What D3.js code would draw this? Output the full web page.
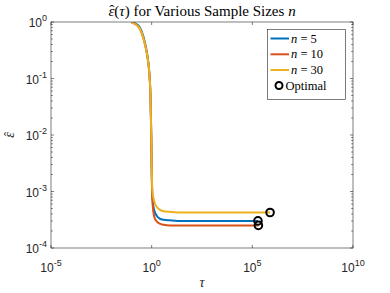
<!DOCTYPE html>
<html><head><meta charset="utf-8">
<script src="https://cdn.jsdelivr.net/npm/d3@7"></script>
<style>body{margin:0;background:#fff}svg{display:block}</style>
</head><body>
<script>
// Data
const tauGrid = [0.1, 0.158, 0.251, 0.398, 0.501, 0.631, 0.759, 0.871, 0.955, 1, 1.072, 1.202, 1.413, 1.778, 2.512, 3.981, 7.943, 19.95, 100, 1000, 1e4, 1e5];
const eps5  = [1.05, 0.933, 0.813, 0.537, 0.380, 0.240, 0.132, 0.0501, 0.0100, 0.00282, 8.91e-4, 5.62e-4, 4.37e-4, 3.72e-4, 3.31e-4, 3.16e-4, 3.09e-4, 3.02e-4, 3.02e-4, 3.02e-4, 3.02e-4, 3.02e-4];
const eps10 = [0.977, 0.912, 0.776, 0.501, 0.355, 0.229, 0.126, 0.0501, 0.0100, 0.00251, 7.94e-4, 4.47e-4, 3.39e-4, 2.95e-4, 2.69e-4, 2.57e-4, 2.51e-4, 2.51e-4, 2.51e-4, 2.51e-4, 2.51e-4, 2.51e-4];
const eps30 = [0.977, 0.912, 0.776, 0.501, 0.355, 0.229, 0.126, 0.0501, 0.0100, 0.00316, 0.00112, 7.94e-4, 6.31e-4, 5.37e-4, 4.79e-4, 4.47e-4, 4.37e-4, 4.27e-4, 4.25e-4, 4.25e-4, 4.25e-4, 4.25e-4];
const seriesNames = ["5", "10", "30"];
const seriesColors = ["#0072BD", "#D95319", "#EDB120"];
const optimalTau = [1.9e5, 2.0e5, 7.6e5];
const optimalEps = [3.02e-4, 2.51e-4, 4.25e-4];
const xTicks = [1e-5, 1, 1e5, 1e10];
const xTickExp = ["-5", "0", "5", "10"];
const yTicks = [1e-4, 1e-3, 1e-2, 1e-1, 1];
const yTickExp = ["-4", "-3", "-2", "-1", "0"];

const W = 390, H = 293;
const L = 51, R = 353, T = 22, B = 248;
const axisColor = "#262626";

const svg = d3.select("body").append("svg").attr("width", W).attr("height", H);
const x = d3.scaleLog().domain([1e-5, 1e10]).range([L, R]);
const y = d3.scaleLog().domain([1e-4, 1]).range([B, T]);

svg.append("defs").append("clipPath").attr("id", "clip")
  .append("rect").attr("x", L).attr("y", T).attr("width", R - L).attr("height", B - T);

svg.append("rect").attr("x", L).attr("y", T).attr("width", R - L).attr("height", B - T).attr("fill", "#fff");

const allEps = [eps5, eps10, eps30];
const line = d3.line().x(d => x(d[0])).y(d => y(d[1])).curve(d3.curveMonotoneX);
const g = svg.append("g").attr("clip-path", "url(#clip)");
allEps.forEach((arr, i) => {
  const pts = tauGrid.map((t, j) => [t, arr[j]]);
  pts.push([optimalTau[i], optimalEps[i]]);
  g.append("path").datum(pts).attr("d", line)
    .attr("fill", "none").attr("stroke", seriesColors[i]).attr("stroke-width", 2);
});
optimalTau.forEach((t, i) => {
  svg.append("circle").attr("cx", x(t)).attr("cy", y(optimalEps[i])).attr("r", 3.8)
    .attr("fill", "none").attr("stroke", "#000").attr("stroke-width", 2);
});

const ax = svg.append("g").attr("stroke", axisColor).attr("fill", "none").attr("stroke-width", 0.6);
ax.append("rect").attr("x", L).attr("y", T).attr("width", R - L).attr("height", B - T);
xTicks.forEach(t => {
  const px = x(t);
  ax.append("line").attr("x1", px).attr("x2", px).attr("y1", B).attr("y2", B - 3);
  ax.append("line").attr("x1", px).attr("x2", px).attr("y1", T).attr("y2", T + 3);
});
for (let e = -4; e <= 0; e++) {
  const base = Math.pow(10, e);
  for (let m = 1; m <= 9; m++) {
    const v = base * m;
    if (v > 1) break;
    const py = y(v);
    const len = m === 1 ? 3 : 1.8;
    ax.append("line").attr("x1", L).attr("x2", L + len).attr("y1", py).attr("y2", py);
    ax.append("line").attr("x1", R).attr("x2", R - len).attr("y1", py).attr("y2", py);
  }
}

const sans = "'Liberation Sans', Arial, sans-serif";
const serif = "'Liberation Serif', 'Times New Roman', serif";
xTicks.forEach((t, i) => {
  const tx = svg.append("text").attr("x", x(t)).attr("y", 272).attr("text-anchor", "middle")
    .style("font-family", sans).style("font-size", "12px").attr("fill", axisColor);
  tx.append("tspan").text("10");
  tx.append("tspan").attr("dy", -6).style("font-size", "9px").text(xTickExp[i]);
});
yTicks.forEach((t, i) => {
  const ty = svg.append("text").attr("x", 47).attr("y", y(t) + 5).attr("text-anchor", "end")
    .style("font-family", sans).style("font-size", "12px").attr("fill", axisColor);
  ty.append("tspan").text("10");
  ty.append("tspan").attr("dy", -6).style("font-size", "9px").text(yTickExp[i]);
});

const title = svg.append("text").attr("x", 202).attr("y", 16).attr("text-anchor", "middle")
  .style("font-family", serif).style("font-size", "13.5px").attr("fill", "#000");
title.append("tspan").style("font-style", "italic").text("\u03B5");
title.append("tspan").text("(");
title.append("tspan").style("font-style", "italic").text("\u03C4");
title.append("tspan").text(") for Various Sample Sizes ");
title.append("tspan").style("font-style", "italic").text("n");
const tw = title.node().getComputedTextLength();
let tfs = 13.5;
if (tw > 0) { tfs = Math.min(15, 13.5 * 214 / tw); title.style("font-size", tfs + "px"); }
// hat over epsilon
let hx = 98;
try {
  const p0 = title.node().getStartPositionOfChar(0), p1 = title.node().getEndPositionOfChar(0);
  hx = (p0.x + p1.x) / 2;
} catch (e) {}
svg.append("text").attr("x", hx + 0.5).attr("y", 15).attr("text-anchor", "middle")
  .style("font-family", serif).style("font-size", tfs + "px").attr("fill", "#000").text("\u02C6");

svg.append("text").attr("x", 202).attr("y", 287).attr("text-anchor", "middle")
  .style("font-family", serif).style("font-style", "italic").style("font-size", "14px").attr("fill", axisColor).text("\u03C4");
const yl = svg.append("g").attr("transform", "translate(14,135) rotate(-90)");
yl.append("text").attr("x", 0).attr("y", 0).attr("text-anchor", "middle")
  .style("font-family", serif).style("font-style", "italic").style("font-size", "14px").attr("fill", axisColor).text("\u03B5");
yl.append("text").attr("x", 1).attr("y", -1).attr("text-anchor", "middle")
  .style("font-family", serif).style("font-size", "12px").attr("fill", axisColor).text("\u02C6");

const lg = svg.append("g");
lg.append("rect").attr("x", 267.5).attr("y", 29.5).attr("width", 78).attr("height", 70)
  .attr("fill", "#fff").attr("stroke", axisColor).attr("stroke-width", 0.6);
const rowY = [38.5, 54.3, 70, 85.5];
seriesNames.forEach((nm, i) => {
  lg.append("line").attr("x1", 270.5).attr("x2", 289).attr("y1", rowY[i]).attr("y2", rowY[i])
    .attr("stroke", seriesColors[i]).attr("stroke-width", 2);
  const t = lg.append("text").attr("x", 291).attr("y", rowY[i] + 4)
    .style("font-family", serif).style("font-size", "12.5px").attr("fill", "#000");
  t.append("tspan").style("font-style", "italic").text("n");
  t.append("tspan").text(" = " + nm);
});
lg.append("circle").attr("cx", 279).attr("cy", rowY[3]).attr("r", 3.5)
  .attr("fill", "none").attr("stroke", "#000").attr("stroke-width", 2);
lg.append("text").attr("x", 285.5).attr("y", rowY[3] + 4)
  .style("font-family", serif).style("font-size", "12.5px").attr("fill", "#000").text("Optimal");
</script>
</body></html>
